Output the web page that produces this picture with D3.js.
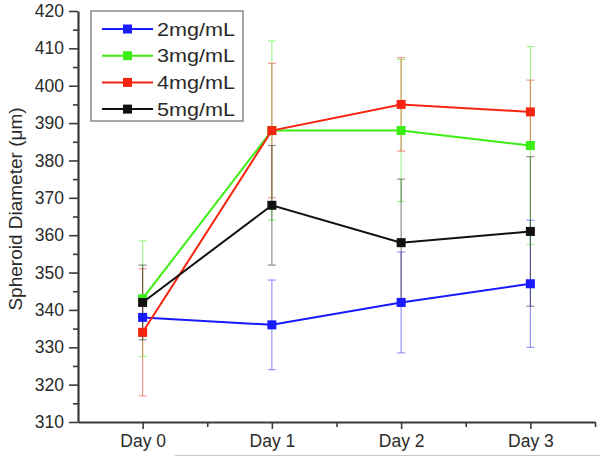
<!DOCTYPE html>
<html>
<head>
<meta charset="utf-8">
<script src="https://cdn.jsdelivr.net/npm/d3@7"></script>
<style>
  body { margin: 0; background: #fff; }
  svg { display: block; font-family: "Liberation Sans", Arial, sans-serif; }
  .axis path, .axis line { stroke: #3a3a3a; }
  .axis text { fill: #2a2a2a; font-family: "Liberation Sans", Arial, sans-serif; }
</style>
</head>
<body>
<svg width="600" height="457"></svg>
<script>
const days = ["Day 0", "Day 1", "Day 2", "Day 3"];
const names = ["2mg/mL", "3mg/mL", "4mg/mL", "5mg/mL"];
const colors = ["#1a1aff", "#3cee14", "#f62410", "#111111"];

const mean2 = [338, 336, 342, 347],
      err2  = [5, 12, 13.5, 17];
const mean3 = [343, 388, 388, 384],
      err3  = [15.5, 24, 19, 26.5];
const mean4 = [334, 388, 395, 393],
      err4  = [17, 18, 12.5, 8.5];
const mean5 = [342, 368, 358, 361],
      err5  = [10, 16, 17, 20];

const yTicks = d3.range(310, 421, 10);

const series = [
  {name: names[0], color: colors[0], mean: mean2, err: err2},
  {name: names[1], color: colors[1], mean: mean3, err: err3},
  {name: names[2], color: colors[2], mean: mean4, err: err4},
  {name: names[3], color: colors[3], mean: mean5, err: err5}
];

var svg = d3.select("svg");

var x = d3.scaleLinear().domain([-0.5, 3.5]).range([78, 595]);
var y = d3.scaleLinear().domain([310, 420]).range([422, 11]);

// stray rule at the bottom of the original image
svg.append("line")
  .attr("x1", 175).attr("x2", 600)
  .attr("y1", 455.5).attr("y2", 455.5)
  .attr("stroke", "#c8c8c8").attr("stroke-width", 1);

// minor ticks
svg.append("g")
  .attr("class", "axis")
  .attr("transform", "translate(78,0)")
  .call(d3.axisLeft(y).tickValues(d3.range(315, 420, 10)).tickSize(5).tickFormat(""))
  .call(g => g.select(".domain").remove());

svg.append("g")
  .attr("class", "axis")
  .attr("transform", "translate(0,422)")
  .call(d3.axisBottom(x).tickValues([0.5, 1.5, 2.5, 3.5]).tickSize(5).tickFormat(""))
  .call(g => g.select(".domain").remove());

// major axes
var gY = svg.append("g")
  .attr("class", "axis")
  .attr("transform", "translate(78,0)")
  .call(d3.axisLeft(y).tickValues(yTicks).tickSize(9).tickPadding(5).tickSizeOuter(0));
gY.selectAll("text").attr("font-size", 17.5);

var gX = svg.append("g")
  .attr("class", "axis")
  .attr("transform", "translate(0,422)")
  .call(d3.axisBottom(x).tickValues([0, 1, 2, 3]).tickFormat(i => days[i]).tickSize(7).tickPadding(6).tickSizeOuter(0));
gX.selectAll("text").attr("font-size", 17.5);

svg.selectAll(".axis .domain").attr("stroke-width", 2.2);
svg.selectAll(".axis line").attr("stroke-width", 1.6);

svg.append("text")
  .attr("transform", "translate(15,209) rotate(-90)")
  .attr("text-anchor", "middle")
  .attr("dy", "0.35em")
  .attr("font-size", 19)
  .attr("fill", "#2a2a2a")
  .text("Spheroid Diameter (\u03bcm)");

// error bars
series.forEach(s => {
  let g = svg.append("g").attr("stroke", s.color).attr("stroke-width", 1.1).attr("opacity", 0.5);
  s.mean.forEach((m, i) => {
    let cx = x(i), lo = y(m - s.err[i]), hi = y(m + s.err[i]);
    g.append("line").attr("x1", cx).attr("x2", cx).attr("y1", lo).attr("y2", hi);
    g.append("line").attr("x1", cx - 4).attr("x2", cx + 4).attr("y1", lo).attr("y2", lo);
    g.append("line").attr("x1", cx - 4).attr("x2", cx + 4).attr("y1", hi).attr("y2", hi);
  });
});

var line = d3.line().x((d, i) => x(i)).y(d => y(d));

series.forEach(s => {
  svg.append("path")
    .attr("d", line(s.mean))
    .attr("fill", "none")
    .attr("stroke", s.color)
    .attr("stroke-width", 2);
  svg.append("g").selectAll("rect")
    .data(s.mean)
    .enter().append("rect")
    .attr("x", (d, i) => x(i) - 4.5)
    .attr("y", d => y(d) - 4.5)
    .attr("width", 9).attr("height", 9)
    .attr("fill", s.color);
});

// legend
var legend = svg.append("g");
legend.append("rect")
  .attr("x", 91).attr("y", 11)
  .attr("width", 152).attr("height", 110)
  .attr("fill", "#fff")
  .attr("stroke", "#8a8a8a").attr("stroke-width", 1.5);

let item = legend.selectAll(".item")
  .data(series)
  .enter().append("g")
  .attr("class", "item")
  .attr("transform", (d, i) => `translate(0,${29 + i * 26.7})`);

item.append("line")
  .attr("x1", 102).attr("x2", 153)
  .attr("stroke", d => d.color).attr("stroke-width", 2);
item.append("rect")
  .attr("x", 123).attr("y", -4.5)
  .attr("width", 9).attr("height", 9)
  .attr("fill", d => d.color);
item.append("text")
  .attr("x", 157)
  .attr("dy", "0.35em")
  .attr("font-size", 19)
  .attr("textLength", 78)
  .attr("lengthAdjust", "spacingAndGlyphs")
  .attr("fill", "#2a2a2a")
  .text(d => d.name);
</script>
</body>
</html>
